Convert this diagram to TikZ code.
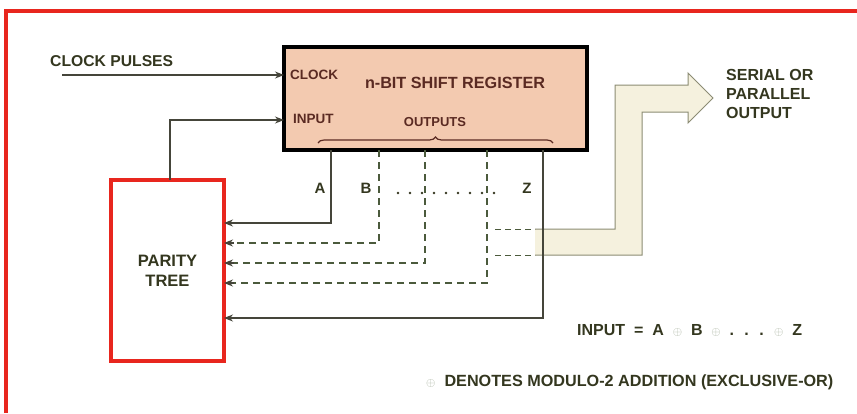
\documentclass[tikz,border=0pt]{standalone}
\usepackage{fontspec}
\setmainfont{Liberation Sans}
\usetikzlibrary{arrows.meta,decorations.pathreplacing}
\definecolor{peach}{HTML}{F3CAB0}
\definecolor{cream}{HTML}{F5F1DE}
\definecolor{frame}{HTML}{E8261E}
\definecolor{ink}{HTML}{34371F}
\definecolor{brn}{HTML}{5A2A22}
\definecolor{wire}{HTML}{45453A}
\definecolor{dwire}{HTML}{4B5A3C}
\definecolor{xorc}{HTML}{A9B3A0}
\definecolor{arrline}{HTML}{8C8C74}
\newcommand{\xo}{\textcolor{xorc}{\fontsize{13}{13}\selectfont$\oplus$}}
\begin{document}
\begin{tikzpicture}[x=1pt,y=-1pt,
  lbl/.style={inner sep=0pt, text=ink},
  rlbl/.style={inner sep=0pt, text=brn},
  wirel/.style={draw=wire, line width=1.2pt},
  dwirel/.style={draw=dwire, line width=1.2pt, dash pattern=on 7pt off 5pt},
  tip/.style={-{Stealth[length=9pt,width=7pt]}},
  font=\bfseries
]
\useasboundingbox (0,0) rectangle (857,413);
\fill[white] (0,0) rectangle (857,413);
% frame
\draw[frame, line width=3.5pt] (6,413) -- (6,11) -- (857,11);

% big output arrow
\fill[cream] (535,229) -- (615,229) -- (615,85) -- (688,85) -- (688,73) -- (713,98) -- (688,123) -- (688,112) -- (642,112) -- (642,255) -- (535,255) -- cycle;
\draw[arrline, line width=1pt, line join=miter] (535,229) -- (615,229) -- (615,85) -- (688,85) -- (688,73) -- (713,98) -- (688,123) -- (688,112) -- (642,112) -- (642,255) -- (535,255);

% shift register
\node (reg) [draw=black, line width=3.5pt, fill=peach, minimum width=303pt, minimum height=103pt, anchor=north west, outer sep=0pt, inner sep=0pt] at (284,47) {};
\draw[brn, line width=1.2pt, decorate, decoration={brace, amplitude=6pt}] (318,143) -- (553,143);
\node (clkl) [rlbl, anchor=west, font=\bfseries\fontsize{13.5}{16}\selectfont] at (290,75) {CLOCK};
\node (title) [rlbl, font=\bfseries\fontsize{16.2}{18}\selectfont] at (455,83) {n-BIT SHIFT REGISTER};
\node (inl) [rlbl, anchor=west, font=\bfseries\fontsize{13.5}{16}\selectfont] at (293,119) {INPUT};
\node (outl) [rlbl, font=\bfseries\fontsize{13}{16}\selectfont] at (435,122) {OUTPUTS};

% parity tree
\node (par) [draw=frame, line width=3.5pt, minimum width=113pt, minimum height=181pt, anchor=north west, outer sep=0pt, align=center, text=ink, font=\bfseries\fontsize{16.5}{20}\selectfont] at (111,180) {PARITY\\TREE};

% clock pulses
\node (cp) [lbl, anchor=west, font=\bfseries\fontsize{15.7}{18}\selectfont] at (50,61) {CLOCK PULSES};
\coordinate (clk) at (62,75);
\draw[wirel, tip] (clk) -- (reg.west |- clk);

% input feedback
\coordinate (inY) at (250,120);
\coordinate (pt) at (170,180);
\draw[wirel, tip] (pt) |- (reg.west |- inY);

% output taps
\coordinate (tA) at (331,150); \coordinate (cA) at (331,223);
\coordinate (tB) at (379,150); \coordinate (cB) at (379,243);
\coordinate (tC) at (425,150); \coordinate (cC) at (425,263);
\coordinate (tD) at (487,150); \coordinate (cD) at (487,283);
\coordinate (tZ) at (543,150); \coordinate (cZ) at (543,318);
\draw[wirel, tip] (tA) -- (cA) -- (par.east |- cA);
\draw[dwirel] (tB) -- (cB) -- ([xshift=8pt]par.east |- cB);
\draw[dwirel] (tC) -- (cC) -- ([xshift=8pt]par.east |- cC);
\draw[dwirel] (tD) -- (cD) -- ([xshift=8pt]par.east |- cD);
\foreach \yy in {243,263,283}{
  \coordinate (h) at (0,\yy);
  \draw[wire, line width=1.2pt, tip] ([xshift=10pt]par.east |- h) -- (par.east |- h);
}
\draw[wirel, tip] (tZ) -- (cZ) -- (par.east |- cZ);

% stubs into output arrow
\coordinate (s1a) at (495,229); \coordinate (s1b) at (535,229);
\coordinate (s2a) at (495,255); \coordinate (s2b) at (535,255);
\draw[dwirel, dash pattern=on 6pt off 4pt, line width=1pt] (s1a) -- (s1b);
\draw[dwirel, dash pattern=on 6pt off 4pt, line width=1pt] (s2a) -- (s2b);

% dots
\foreach \k in {0,...,8} \fill[ink] (398+12*\k,193) circle (1.4pt);

% output labels
\node (lA) [lbl, font=\bfseries\fontsize{15}{18}\selectfont] at (320,188) {A};
\node (lB) [lbl, font=\bfseries\fontsize{15}{18}\selectfont] at (366,188) {B};
\node (lZ) [lbl, font=\bfseries\fontsize{15}{18}\selectfont] at (527,188) {Z};

% serial / parallel output
\node (ser) [lbl, anchor=north west, align=left, font=\bfseries\fontsize{16}{19}\selectfont] at (726,69) {SERIAL OR\\PARALLEL\\OUTPUT};

% equations
\node (eq) [lbl, anchor=west, font=\bfseries\fontsize{16}{18}\selectfont] at (577,330) {INPUT \ = \ A \ \xo\ \ B \ \xo\ \ . \ . \ . \ \xo\ \ Z};
\node (den) [lbl, anchor=west, font=\bfseries\fontsize{16.2}{18}\selectfont] at (426,382) {\xo\ \ DENOTES MODULO-2 ADDITION (EXCLUSIVE-OR)};
\end{tikzpicture}
\end{document}
